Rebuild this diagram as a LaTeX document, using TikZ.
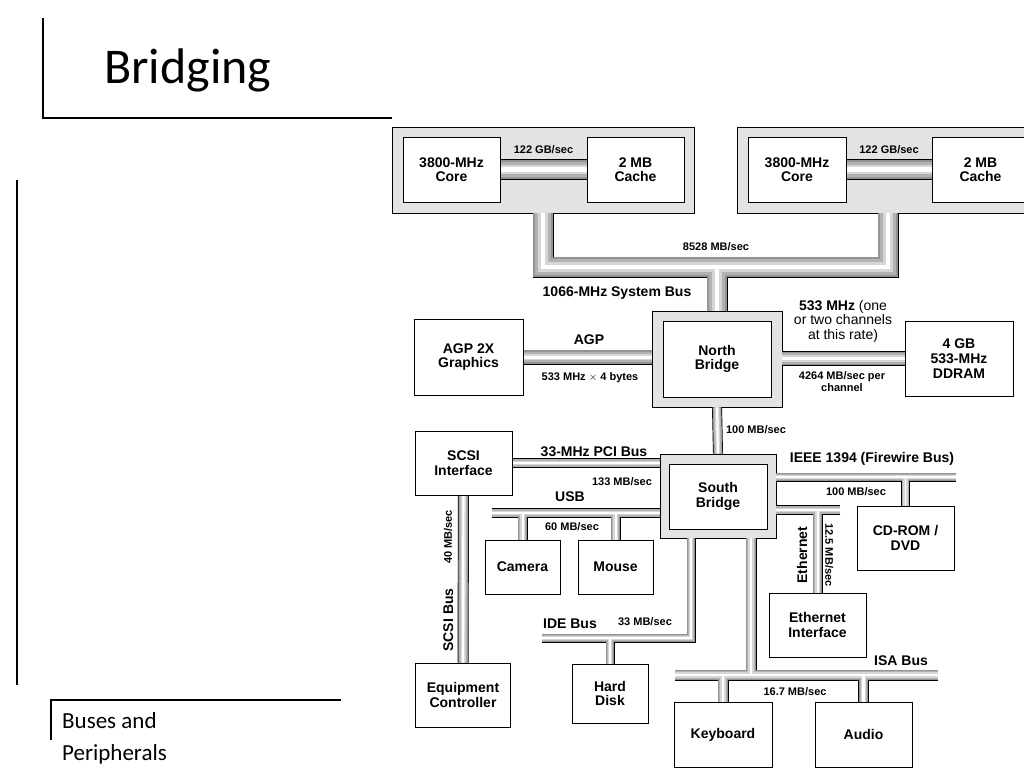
\documentclass[tikz,border=0pt]{standalone}
\usepackage{fontspec}
\setmainfont{Liberation Sans}
\newfontfamily\slidefont{Carlito}
\usetikzlibrary{backgrounds}
\pgfdeclarelayer{pipes}
\pgfsetlayers{background,pipes,main}

\newcommand\boxtext{\fontsize{14}{14.5}\selectfont\bfseries}
\newcommand\bustext{\fontsize{14}{15}\selectfont\bfseries}
\newcommand\ratetext{\fontsize{11}{12}\selectfont\bfseries}
\newcommand\notetext{\fontsize{14}{14.5}\selectfont}

\begin{document}
\begin{tikzpicture}[x=1pt, y=-1pt,
    box/.style={draw=black, fill=white, line width=0.8pt, inner sep=0pt, align=center, font=\boxtext},
    chip/.style={draw=black, fill=gray!22, line width=0.8pt, inner sep=0pt},
    pipe/.style={draw=white, line width=0.2*#1,
        preaction={draw=black, line width=#1},
        preaction={draw=gray!85, line width=#1-1.4},
        preaction={draw=gray!60, line width=0.72*#1},
        preaction={draw=gray!32, line width=0.46*#1}},
    rate/.style={font=\ratetext, inner sep=0pt, text height=7.5pt, text depth=0pt},
    busname/.style={font=\bustext, inner sep=0pt, text height=10pt, text depth=0pt},
    slideline/.style={line width=1.2pt, black}
]
\clip (0,0) rectangle (1024,768);

% slide frame
\draw[slideline] (43,18) -- (43,118) -- (392,118);
\draw[slideline] (17,180) -- (17,685);
\draw[slideline] (51,740) -- (51,700) -- (341,700);
\node[anchor=base west, inner sep=0pt, font=\slidefont\fontsize{50}{50}\selectfont] (title) at (104,83) {Bridging};
\node[anchor=base west, inner sep=0pt, font=\slidefont\fontsize{23}{23}\selectfont] (buses) at (62,728) {Buses and};
\node[anchor=base west, inner sep=0pt, font=\slidefont\fontsize{23}{23}\selectfont] (periph) at (62,760) {Peripherals};

% grey frames
\begin{pgfonlayer}{background}
\clip (0,0) rectangle (1024,768);
\node[chip, minimum width=302pt, minimum height=86pt] (cpuA) at (543,170) {};
\node[chip, minimum width=302pt, minimum height=86pt] (cpuB) at (888,170) {};
\node[chip, minimum width=130pt, minimum height=96pt] (nbo) at (717,359) {};
\node[chip, minimum width=116pt, minimum height=84pt] (sbo) at (718,496) {};
\end{pgfonlayer}

% boxes
\node[box, minimum width=97pt, minimum height=65pt] (core1) at (451.5,169.5) {3800-MHz\\Core};
\node[box, minimum width=97pt, minimum height=65pt] (cache1) at (635.5,169.5) {2 MB\\Cache};
\node[box, minimum width=98pt, minimum height=65pt] (core2) at (797,169.5) {3800-MHz\\Core};
\node[box, minimum width=97pt, minimum height=65pt] (cache2) at (980.5,169.5) {2 MB\\Cache};
\node[box, minimum width=108pt, minimum height=76pt] (nb) at (717,359) {North\\Bridge};
\node[box, minimum width=109pt, minimum height=76pt] (agp) at (468.5,357) {AGP 2X\\Graphics};
\node[box, minimum width=108pt, minimum height=75pt, font=\fontsize{14}{15}\selectfont\bfseries] (ddr) at (959,358.5) {4 GB\\533-MHz\\DDRAM};
\node[box, minimum width=98pt, minimum height=65pt] (sb) at (718,496.5) {South\\Bridge};
\node[box, minimum width=97pt, minimum height=64pt] (scsi) at (463.5,463) {SCSI\\Interface};
\node[box, minimum width=75pt, minimum height=54pt] (cam) at (522.5,567) {Camera};
\node[box, minimum width=75pt, minimum height=54pt] (mouse) at (615.5,567) {Mouse};
\node[box, minimum width=95pt, minimum height=64pt] (eqc) at (463,695) {Equipment\\Controller};
\node[box, minimum width=76pt, minimum height=59pt] (hd) at (610,693.5) {Hard\\Disk};
\node[box, minimum width=98pt, minimum height=65pt] (kbd) at (723,734.5) {Keyboard};
\node[box, minimum width=97pt, minimum height=65pt] (audio) at (863.5,734.5) {Audio};
\node[box, minimum width=97pt, minimum height=64pt] (cd) at (905.5,538) {CD-ROM /\\DVD};
\node[box, minimum width=97pt, minimum height=64pt] (eth) at (817.5,625) {Ethernet\\Interface};

% bus ends
\coordinate (sysbus) at (717,267);
\coordinate (usbend) at (492,513);
\coordinate (ide) at (691,638);
\coordinate (ideend) at (542,638);
\coordinate (isa) at (751,675);
\coordinate (isaL) at (675,675);
\coordinate (isaR) at (938,675);
\coordinate (fwend) at (956,477);
\coordinate (ethend) at (840,510);

% buses
\begin{pgfonlayer}{pipes}
\draw[pipe=21] (core1) -- (cache1);
\draw[pipe=21] (core2) -- (cache2);
\draw[pipe=21] (cpuA.south) |- (sysbus) -| (cpuB.south) (nbo.north) -- (sysbus);
\draw[pipe=15] (agp) -- (agp -| nbo.west);
\draw[pipe=15] (ddr) -- (ddr -| nbo.east);
\draw[pipe=10] (nbo.south) -- (sbo.north);
\draw[pipe=10] (scsi) -- (scsi -| sbo.west);
\draw[pipe=10] (usbend) -- (usbend -| sbo.west) (cam) -- (cam |- usbend) (mouse) -- (mouse |- usbend);
\draw[pipe=11] (scsi) -- (eqc);
\draw[pipe=9] (ideend) -- (ide) -- (ide |- sbo.south) (hd) -- (hd |- ide);
\draw[pipe=11] (isaL) -- (isaR) (isa) -- (isa |- sbo.south) (kbd) -- (kbd |- isa) (audio) -- (audio |- isa);
\draw[pipe=9] (fwend) -- (fwend -| sbo.east) (cd) -- (cd |- fwend);
\draw[pipe=10] (ethend) -- (ethend -| sbo.east) (eth) -- (eth |- ethend);
\end{pgfonlayer}

% labels
\node[rate] (l122a) at (543.5,149.5) {122 GB/sec};
\node[rate] (l122b) at (889,149.5) {122 GB/sec};
\node[rate] (l8528) at (716,247) {8528 MB/sec};
\node[busname] (lsys) at (617,291) {1066-MHz System Bus};
\node[busname] (lagp) at (589,339) {AGP};
\node[rate] (lagprate) at (590,377) {533 MHz $\times$ 4 bytes};
\node[align=center, inner sep=0pt, font=\notetext] (lddr) at (843,321) {\textbf{533 MHz} (one\\or two channels\\at this rate)};
\node[align=center, inner sep=0pt, font=\ratetext] (lddrrate) at (842,382) {4264 MB/sec per\\channel};
\node[rate] (lnbsb) at (756,430) {100 MB/sec};
\node[busname] (lpci) at (594,451) {33-MHz PCI Bus};
\node[rate] (lpcirate) at (622,482) {133 MB/sec};
\node[busname] (lusb) at (570,496) {USB};
\node[rate] (lusbrate) at (572,527) {60 MB/sec};
\node[rate, rotate=90] (lscsirate) at (448,537) {40 MB/sec};
\node[busname, rotate=90] (lscsi) at (448,620) {SCSI Bus};
\node[busname] (lfw) at (872,457) {IEEE 1394 (Firewire Bus)};
\node[rate] (lfwrate) at (856,492) {100 MB/sec};
\node[busname, rotate=90] (lethname) at (802,555) {Ethernet};
\node[rate, rotate=-90] (lethrate) at (829,555) {12.5 MB/sec};
\node[busname] (lide) at (570,623) {IDE Bus};
\node[rate] (liderate) at (645,622) {33 MB/sec};
\node[busname] (lisa) at (901,660) {ISA Bus};
\node[rate] (lisarate) at (795,692) {16.7 MB/sec};

\end{tikzpicture}
\end{document}
